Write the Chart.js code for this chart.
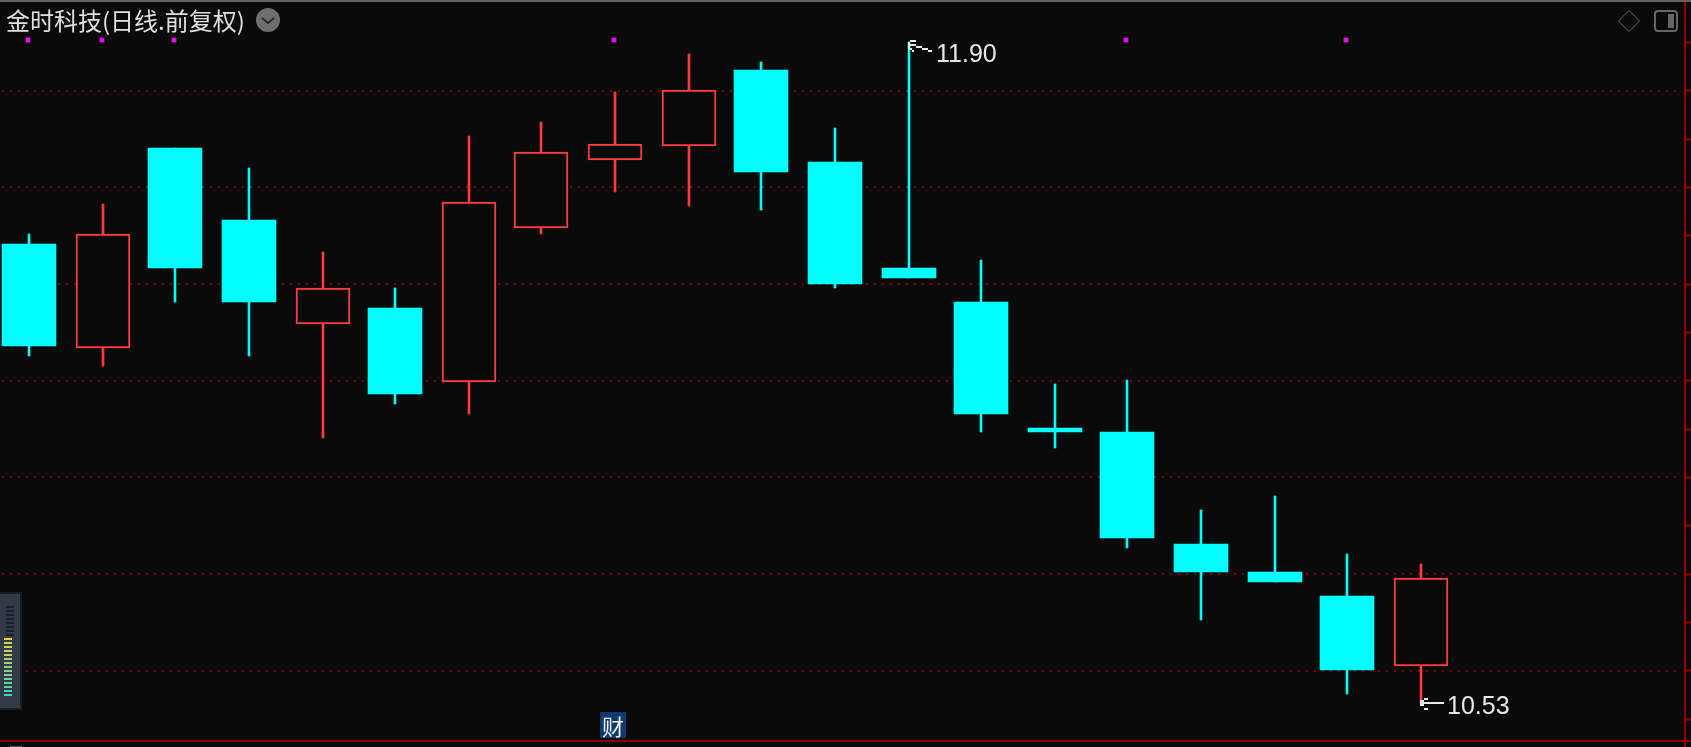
<!DOCTYPE html>
<html>
<head>
<meta charset="utf-8">
<title>金时科技</title>
<script src="https://cdn.jsdelivr.net/npm/chart.js@4/dist/chart.umd.min.js"></script>
<style>
    html, body { margin: 0; padding: 0; background: #0a0a0a; overflow: hidden; }
    #wrap { position: relative; width: 1691px; height: 747px; }
    #title {
        position: absolute; left: 6px; top: 6px;
        font: 24px/28px "Noto Sans CJK SC", sans-serif; color: #e0e0e0; white-space: nowrap;
    }
    #cai {
        position: absolute; left: 600px; top: 712px; width: 26px; height: 26px;
        background: #0f3a6e; color: #f0f0f0; text-align: center;
        font: 22px/26px "Noto Sans CJK SC", sans-serif;
    }
</style>
</head>
<body>
<div id="wrap">
    <canvas id="grafico" width="1691" height="747"></canvas>
    <div id="title">金时科技(日线.前复权)</div>
    <div id="cai">财</div>
</div>
<script>
const dias = [0, 1, 2, 3, 4, 5, 6, 7, 8, 9, 10, 11, 12, 13, 14, 15, 16, 17, 18, 19];
const aperturas = [11.483, 11.268, 11.681, 11.532, 11.317, 11.350, 11.197, 11.516, 11.657, 11.686, 11.843, 11.652, 11.433, 11.363, 11.102, 11.094, 10.862, 10.804, 10.755, 10.610];
const cierres = [11.272, 11.503, 11.433, 11.363, 11.392, 11.172, 11.570, 11.673, 11.690, 11.801, 11.632, 11.400, 11.412, 11.131, 11.094, 10.875, 10.804, 10.783, 10.601, 10.792];
const maximos = [11.503, 11.566, 11.681, 11.640, 11.466, 11.392, 11.706, 11.735, 11.797, 11.876, 11.859, 11.723, 11.900, 11.450, 11.193, 11.201, 10.932, 10.961, 10.841, 10.821];
const minimos = [11.251, 11.230, 11.363, 11.251, 11.081, 11.152, 11.131, 11.503, 11.590, 11.561, 11.553, 11.392, 11.412, 11.094, 11.061, 10.854, 10.705, 10.783, 10.552, 10.530];
const lineasGuia = [11.8, 11.6, 11.4, 11.2, 11.0, 10.8, 10.6];
const marcasDias = [0, 1, 2, 8, 15, 18];
const marcaDesde = 11.901;
const marcaHasta = 11.909;

const FONDO = '#0a0a0a';
const ROJO = '#ff3c3c';
const CIAN = '#00ffff';
const GUIA = '#800000';
const EJE = '#8f0000';

const esAlza = i => cierres[i] > aperturas[i];

// el original va en pixeles enteros: centros impares, bordes pares
const ajustarBarras = {
    id: 'ajustarBarras',
    afterDatasetsUpdate(chart) {
        chart.data.datasets.forEach((ds, n) => {
            chart.getDatasetMeta(n).data.forEach(el => {
                const x = 2 * Math.round((el.x - 1) / 2) + 1;
                el.x = ds.label === 'marcas' ? x - 1 : x;
                el.y = Math.round(el.y / 2) * 2;
                el.base = Math.round(el.base / 2) * 2;
            });
        });
    }
};

const guias = {
    id: 'guias',
    beforeDatasetsDraw(chart) {
        const ctx = chart.ctx;
        ctx.save();
        ctx.fillStyle = GUIA;
        lineasGuia.forEach(v => {
            const y = Math.round(chart.scales.y.getPixelForValue(v));
            for (let x = 2; x < 1676; x += 8) ctx.fillRect(x, y - 1, 2, 2);
        });
        ctx.restore();
    }
};

const rotulos = {
    id: 'rotulos',
    afterDatasetsDraw(chart) {
        const ctx = chart.ctx;
        const barras = chart.getDatasetMeta(0).data;
        const altoI = maximos.indexOf(Math.max(...maximos));
        const bajoI = minimos.indexOf(Math.min(...minimos));
        const yPx = v => Math.round(chart.scales.y.getPixelForValue(v) / 2) * 2;
        ctx.save();
        ctx.fillStyle = '#e8e8e8';
        ctx.font = '25px "Liberation Sans"';
        ctx.textBaseline = 'alphabetic';

        let x = barras[altoI].x, y = yPx(maximos[altoI]);
        [[-1, 0, 2, 8], [1, -2, 6, 2], [1, 2, 6, 2], [7, 4, 6, 2], [13, 6, 6, 2], [19, 8, 4, 2], [1, 6, 2, 2], [3, 8, 2, 2]]
            .forEach(r => ctx.fillRect(x + r[0], y + r[1], r[2], r[3]));
        ctx.fillText(maximos[altoI].toFixed(2), x + 27, y + 20);

        x = barras[bajoI].x; y = yPx(minimos[bajoI]);
        [[-1, -2, 24, 2], [-1, -4, 4, 6], [3, -6, 4, 2], [3, 4, 4, 2]]
            .forEach(r => ctx.fillRect(x + r[0], y + r[1], r[2], r[3]));
        ctx.fillText(minimos[bajoI].toFixed(2), x + 26, y + 10);
        ctx.restore();
    }
};

const marco = {
    id: 'marco',
    afterDraw(chart) {
        const ctx = chart.ctx;
        ctx.save();
        ctx.fillStyle = '#666666';
        ctx.fillRect(0, 0, 1691, 2);
        ctx.fillStyle = EJE;
        ctx.fillRect(0, 740, 1691, 2);
        ctx.fillRect(1684, 2, 2, 745);
        ctx.fillStyle = '#555555';
        ctx.fillRect(10, 746, 12, 1);

        // boton redondo junto al titulo
        ctx.fillStyle = '#6e6e6e';
        ctx.beginPath();
        ctx.arc(268, 20, 12, 0, Math.PI * 2);
        ctx.fill();
        ctx.strokeStyle = '#2a2a2a';
        ctx.lineWidth = 2;
        ctx.beginPath();
        ctx.moveTo(262, 18);
        ctx.lineTo(268, 23);
        ctx.lineTo(274, 18);
        ctx.stroke();

        // iconos arriba a la derecha
        ctx.strokeStyle = '#666666';
        ctx.lineWidth = 1;
        ctx.beginPath();
        ctx.moveTo(1629, 10.5);
        ctx.lineTo(1639.5, 21);
        ctx.lineTo(1629, 31.5);
        ctx.lineTo(1618.5, 21);
        ctx.closePath();
        ctx.stroke();
        ctx.lineWidth = 2;
        ctx.beginPath();
        ctx.roundRect(1655, 11, 22, 20, 3);
        ctx.stroke();
        ctx.fillStyle = '#666666';
        ctx.fillRect(1668, 14, 6, 14);

        // barra lateral
        ctx.fillStyle = '#1a1d24';
        ctx.fillRect(0, 592, 22, 118);
        ctx.fillStyle = '#333a47';
        ctx.fillRect(0, 594, 20, 114);
        ctx.fillStyle = '#1c2028';
        for (let k = 0; k < 8; k++) ctx.fillRect(6, 606 + 4 * k, 8, 2);
        for (let k = 0; k < 15; k++) {
            const t = k / 14;
            ctx.fillStyle = `rgb(${Math.round(230 - 170 * t)},${Math.round(210 + 5 * t)},${Math.round(60 + 120 * t)})`;
            ctx.fillRect(4, 638 + 4 * k, 8, 2);
        }
        ctx.restore();
    }
};

new Chart(document.getElementById('grafico').getContext('2d'), {
    type: 'bar',
    data: {
        datasets: [
            {
                label: 'cuerpo',
                order: 1,
                data: dias.map(i => ({ x: i, y: [aperturas[i], cierres[i]] })),
                barThickness: 54,
                backgroundColor: dias.map(i => esAlza(i) ? FONDO : CIAN),
                borderColor: dias.map(i => esAlza(i) ? ROJO : CIAN),
                borderWidth: dias.map(i => esAlza(i) ? 2 : 0),
                borderSkipped: false
            },
            {
                label: 'mecha',
                order: 2,
                data: dias.map(i => ({ x: i, y: [minimos[i], maximos[i]] })),
                barThickness: 2,
                backgroundColor: dias.map(i => esAlza(i) ? ROJO : CIAN),
                borderWidth: 0
            },
            {
                // como barras: un dataset de puntos agranda el padding del area
                label: 'marcas',
                order: 0,
                data: marcasDias.map(i => ({ x: i, y: [marcaDesde, marcaHasta] })),
                barThickness: 4,
                backgroundColor: '#ff00ff',
                borderWidth: 0
            }
        ]
    },
    options: {
        responsive: false,
        animation: false,
        events: [],
        layout: { padding: { top: 2, bottom: 6, left: 0, right: 0 } },
        datasets: { bar: { grouped: false } },
        plugins: { legend: { display: false }, tooltip: { enabled: false }, title: { display: false } },
        scales: {
            x: { type: 'linear', display: false, offset: false, min: -0.3958, max: 22.604 },
            y: {
                position: 'right',
                min: 10.4545,
                max: 11.9835,
                border: { display: false },
                grid: { drawOnChartArea: false, drawTicks: true, tickLength: 6, tickColor: EJE, tickWidth: 2 },
                ticks: { display: false, stepSize: 0.1, autoSkip: false, includeBounds: false, padding: 0 },
                afterFit(scale) { scale.width = 6; }
            }
        }
    },
    plugins: [ajustarBarras, guias, rotulos, marco]
});
</script>
</body>
</html>
